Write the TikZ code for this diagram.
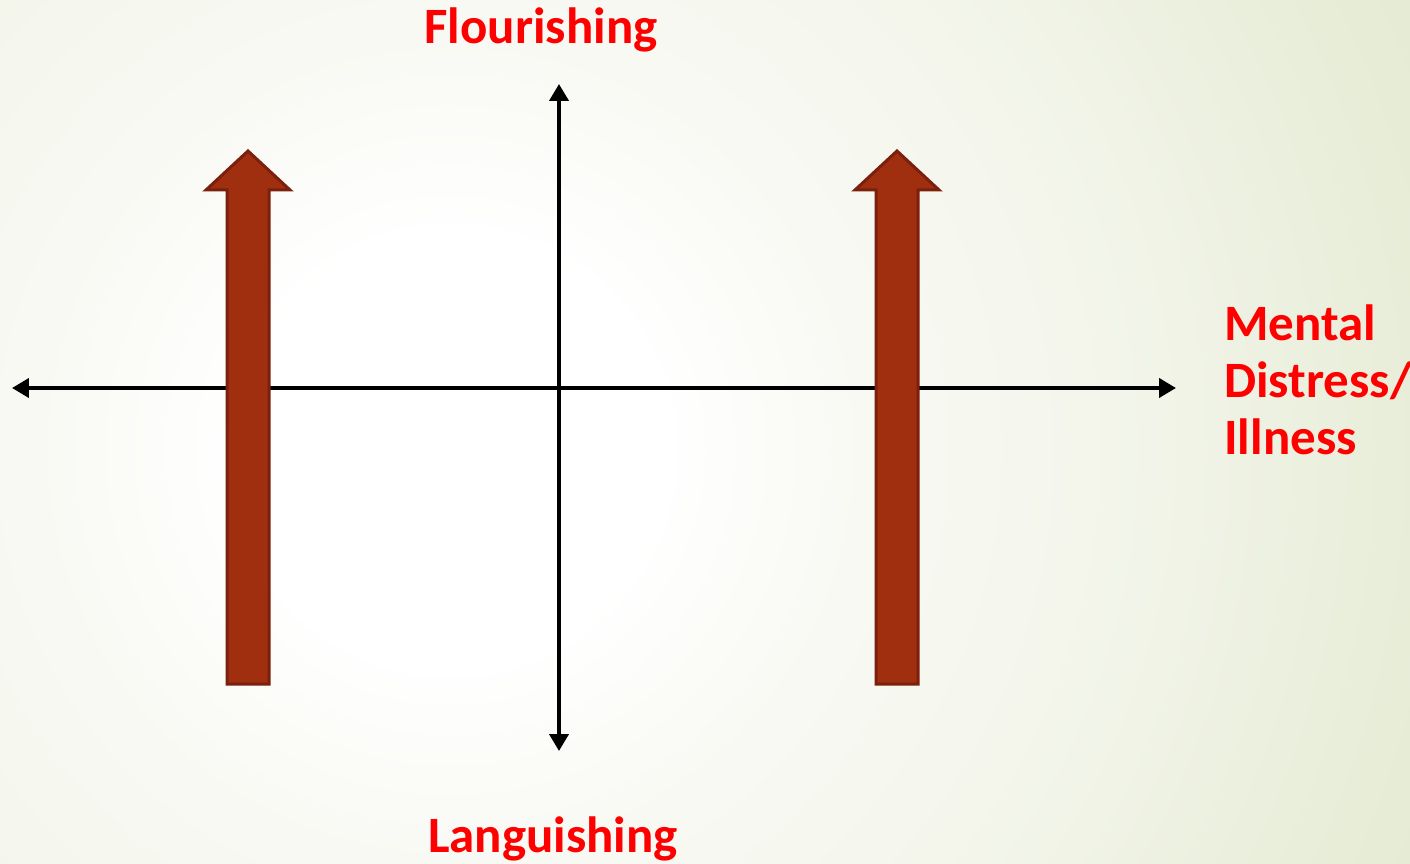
\documentclass[tikz,border=0pt]{standalone}
\usepackage{fontspec}
\setmainfont{Carlito}
\usetikzlibrary{arrows.meta}
\definecolor{bgin}{RGB}{248,249,243}
\definecolor{bgmid}{RGB}{244,246,236}
\definecolor{bggreen}{RGB}{229,235,212}
\definecolor{barfill}{RGB}{160,47,16}
\definecolor{bardraw}{RGB}{122,32,12}
\definecolor{lblred}{RGB}{255,0,0}
\pgfdeclareradialshading{bgshade}{\pgfpoint{0bp}{0bp}}{color(0bp)=(white);color(5bp)=(white);color(10bp)=(bgin);color(15bp)=(bgmid);color(25bp)=(bggreen);color(50bp)=(bggreen)}
\tikzset{axis/.style={line width=0.08cm,>={Triangle[length=0.34cm,width=0.38cm]}},
  lbl/.style={text=lblred,font=\fontsize{29}{32.5}\selectfont\bfseries,inner sep=0pt},
  bar/.style={fill=barfill,draw=bardraw,line width=0.06cm,line join=miter}}

\begin{document}
\begin{tikzpicture}[x=0.02cm,y=-0.02cm]
\begin{scope}\clip(0,0)rectangle(1410,864);\shade[shading=bgshade](-600,-600)rectangle(1500,1500);\end{scope}
\useasboundingbox(0,0)rectangle(1410,864);
% axes
\coordinate(xl)at(12,388);\coordinate(xr)at(1176,388);\coordinate(yt)at(559,84);\coordinate(yb)at(559,751);
\draw[axis,<->](xl)--(xr);\draw[axis,<->](yb)--(yt);
% big arrows
\foreach \x in {248,897}{\draw[bar](\x-21,684)--(\x-21,190)--(\x-42,190)--(\x,151)--(\x+42,190)--(\x+21,190)--(\x+21,684)--cycle;}
% labels
\node[lbl,anchor=base](flour)at(541,44){Flourishing};
\node[lbl,anchor=base](langu)at(553,852){Languishing};
\node[lbl,align=left,anchor=base west](ment)at(1224,455){Mental\\Distress/\\Illness};
\end{tikzpicture}
\end{document}
